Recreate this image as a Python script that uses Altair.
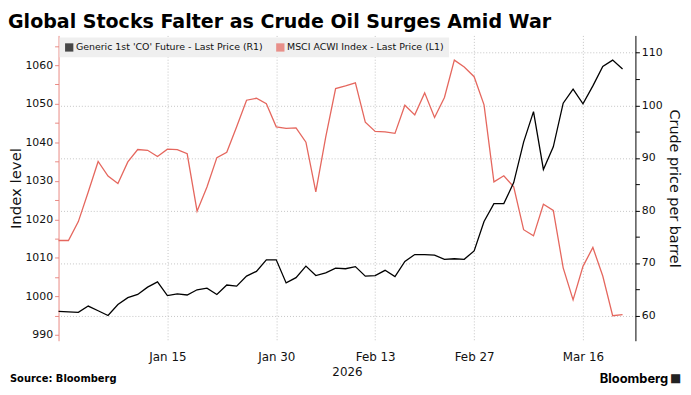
import altair as alt
import pandas as pd

TITLE = "Global Stocks Falter as Crude Oil Surges Amid War"
SOURCE = "Source: Bloomberg"
BRAND = "Bloomberg"

S_CRUDE = "Generic 1st 'CO' Future - Last Price (R1)"
S_MSCI = "MSCI ACWI Index - Last Price (L1)"

# trading days (weekdays), Dec 31 2025 .. Mar 20 2026
DATES = [
    "2025-12-31",
    "2026-01-01", "2026-01-02", "2026-01-05", "2026-01-06", "2026-01-07", "2026-01-08", "2026-01-09",
    "2026-01-12", "2026-01-13", "2026-01-14", "2026-01-15", "2026-01-16",
    "2026-01-19", "2026-01-20", "2026-01-21", "2026-01-22", "2026-01-23",
    "2026-01-26", "2026-01-27", "2026-01-28", "2026-01-29", "2026-01-30",
    "2026-02-02", "2026-02-03", "2026-02-04", "2026-02-05", "2026-02-06",
    "2026-02-09", "2026-02-10", "2026-02-11", "2026-02-12", "2026-02-13",
    "2026-02-16", "2026-02-17", "2026-02-18", "2026-02-19", "2026-02-20",
    "2026-02-23", "2026-02-24", "2026-02-25", "2026-02-26", "2026-02-27",
    "2026-03-02", "2026-03-03", "2026-03-04", "2026-03-05", "2026-03-06",
    "2026-03-09", "2026-03-10", "2026-03-11", "2026-03-12", "2026-03-13",
    "2026-03-16", "2026-03-17", "2026-03-18", "2026-03-19", "2026-03-20",
]

MSCI = [
    1014.5, 1014.5, 1019.4, 1027.1, 1035.0, 1031.2, 1029.3, 1034.9, 1038.1, 1037.9,
    1036.3, 1038.2, 1038.1, 1037.0, 1022.1, 1028.4, 1036.0, 1037.4, 1044.0, 1050.9,
    1051.4, 1050.0, 1044.0, 1043.6, 1043.7, 1040.0, 1027.1, 1041.3, 1053.9, 1054.6,
    1055.4, 1045.2, 1042.8, 1042.7, 1042.3, 1049.6, 1047.1, 1052.8, 1046.4, 1051.6,
    1061.3, 1059.5, 1057.0, 1049.7, 1029.7, 1031.3, 1028.4, 1017.3, 1015.7, 1023.9,
    1022.3, 1007.4, 999.1, 1007.8, 1012.7, 1005.3, 995.0, 995.3,
]

CRUDE = [
    60.8, 60.7, 60.6, 61.8, 60.9, 60.0, 62.1, 63.4, 64.0, 65.4,
    66.4, 63.8, 64.1, 63.9, 64.9, 65.2, 64.0, 65.8, 65.6, 67.5,
    68.4, 70.6, 70.6, 66.2, 67.2, 69.4, 67.6, 68.1, 69.0, 68.9,
    69.3, 67.5, 67.6, 68.6, 67.4, 70.3, 71.6, 71.6, 71.5, 70.7,
    70.8, 70.7, 72.3, 77.9, 81.3, 81.3, 85.3, 93.0, 98.8, 87.8,
    92.1, 100.4, 103.1, 100.3, 103.7, 107.4, 108.6, 106.9,
]

TICK_DATES = ["2026-01-15", "2026-01-30", "2026-02-13", "2026-02-27", "2026-03-16"]
TICK_LABELS = ["Jan 15", "Jan 30", "Feb 13", "Feb 27", "Mar 16"]

LEFT_TICKS = [990, 995, 1000, 1005, 1010, 1015, 1020, 1025, 1030, 1035, 1040, 1045, 1050, 1055, 1060, 1065]
RIGHT_TICKS = [60, 65, 70, 75, 80, 85, 90, 95, 100, 105, 110]

RED = "#e5675e"
RED_AXIS = "#e98a84"
FONT = "DejaVu Sans"
HEAD_FONT = "DejaVu Sans"
BRAND_FONT = "Inter"

n = len(DATES)
df = pd.DataFrame({
    "i": list(range(n)) * 2,
    "date": DATES * 2,
    "series": [S_MSCI] * n + [S_CRUDE] * n,
    "value": MSCI + CRUDE,
})

tick_idx = [DATES.index(d) for d in TICK_DATES]
label_expr = " : ".join(f"datum.value == {i} ? '{l}'" for i, l in zip(tick_idx, TICK_LABELS)) + " : ''"

W, H = 582, 308
series_scale = alt.Scale(domain=[S_CRUDE, S_MSCI], range=["#000000", RED])

x_enc = alt.X(
    "i:Q",
    scale=alt.Scale(domain=[0, 58.3], nice=False, zero=False),
    axis=alt.Axis(
        values=tick_idx, labelExpr=label_expr, title="2026",
        grid=True, gridDash=[1, 2], gridColor="#c4c4c4",
        domain=False, ticks=False, labelFont=FONT, labelFontSize=12, labelColor="#111",
        labelPadding=11, titleFont=FONT, titleFontSize=12, titleFontWeight="normal",
        titleColor="#111", titlePadding=4,
    ),
)

base = alt.Chart(df)

msci = base.transform_filter(alt.datum.series == S_MSCI).mark_line(strokeWidth=1.3, color=RED).encode(
    x=x_enc,
    y=alt.Y(
        "value:Q",
        scale=alt.Scale(domain=[988.5, 1067.7], nice=False, zero=False),
        axis=alt.Axis(
            orient="left", values=LEFT_TICKS, format="d",
            labelExpr="datum.value % 10 == 0 ? datum.label : ''",
            grid=False, domainColor=RED_AXIS, tickColor=RED_AXIS, tickSize=4,
            labelFont=FONT, labelFontSize=11, labelColor="#111", labelPadding=2,
            title="Index level", titleFont=FONT, titleFontSize=15, titleFontWeight="normal",
            titleColor="#111", titlePadding=1,
        ),
    ),
    detail="series:N",
)

crude = base.transform_filter(alt.datum.series == S_CRUDE).mark_line(strokeWidth=1.3, color="#000000").encode(
    x=x_enc,
    y=alt.Y(
        "value:Q",
        scale=alt.Scale(domain=[55.2, 113.3], nice=False, zero=False),
        axis=alt.Axis(
            orient="right", values=RIGHT_TICKS, format="d",
            labelExpr="datum.value % 10 == 0 ? datum.label : ''",
            grid=True, gridDash=[1, 2], gridColor="#c4c4c4",
            gridOpacity={"condition": {"test": "datum.value % 10 == 0", "value": 1}, "value": 0},
            domainColor="#000", tickColor="#000", tickSize=4,
            labelFont=FONT, labelFontSize=11, labelColor="#111", labelPadding=2,
            title="Crude price per barrel", titleFont=FONT, titleFontSize=14.5,
            titleFontWeight="normal", titleColor="#111", titlePadding=4,
        ),
    ),
    detail="series:N",
)

# legend carrier: no visible marks, only drives the square-symbol legend
legend_layer = base.transform_filter("false").mark_square(filled=True).encode(
    fill=alt.Fill(
        "series:N", scale=series_scale,
        legend=alt.Legend(
            orient="none", legendX=1, legendY=2, direction="horizontal", title=None,
            fillColor="#efefef", padding=5, symbolType="square", symbolSize=70,
            symbolStrokeWidth=0, labelFont=FONT, labelFontSize=9.5, labelColor="#111",
            labelOffset=2, columnPadding=12, labelLimit=400,
        ),
    ),
)

title = alt.Chart(pd.DataFrame({"t": [TITLE]})).mark_text(
    align="left", baseline="alphabetic", font=HEAD_FONT, fontSize=19.2, fontWeight="bold", color="#000"
).encode(text="t:N", x=alt.value(-51), y=alt.value(-8))

source = alt.Chart(pd.DataFrame({"t": [SOURCE]})).mark_text(
    align="left", baseline="alphabetic", font=HEAD_FONT, fontSize=10, fontWeight="bold", color="#000"
).encode(text="t:N", x=alt.value(-49), y=alt.value(350))

brand = alt.Chart(pd.DataFrame({"t": [BRAND]})).mark_text(
    align="right", baseline="alphabetic", font=BRAND_FONT, fontSize=13, fontWeight="bold", color="#000"
).encode(text="t:N", x=alt.value(615), y=alt.value(351))

logo = alt.Chart(pd.DataFrame({"t": ["■"]})).mark_text(
    align="left", baseline="alphabetic", font=FONT, fontSize=12, color="#222"
).encode(text="t:N", x=alt.value(617), y=alt.value(350))

chart = alt.layer(msci, crude, legend_layer, title, source, brand, logo).resolve_scale(
    y="independent"
).properties(
    width=W, height=H,
    autosize=alt.AutoSizeParams(type="none"),
    padding={"left": 51, "top": 26, "right": 48, "bottom": 45},
    background="white",
).configure_view(stroke=None)

chart.save("out.html", embed_options={"renderer": "svg", "actions": False})
